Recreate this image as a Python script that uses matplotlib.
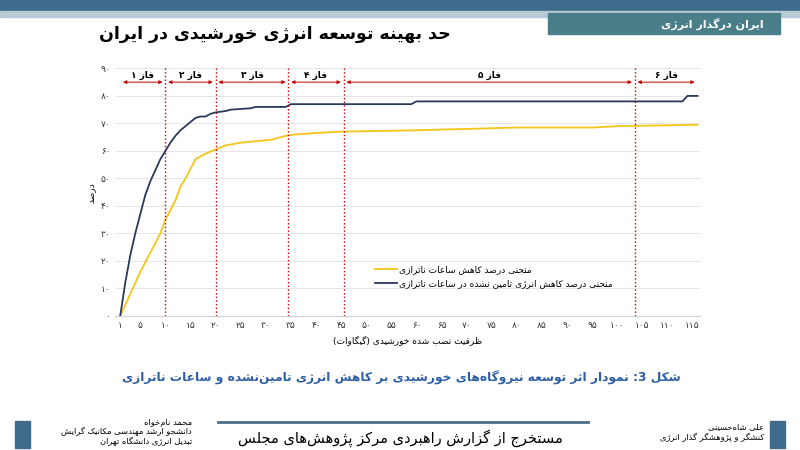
import re
import matplotlib
matplotlib.use("Agg")
import matplotlib.pyplot as plt
from matplotlib.patches import Rectangle

plt.rcParams['font.family'] = ['DejaVu Sans']

# --- tiny Persian shaper: letter -> (isolated, final, initial, medial) ---
FORMS = {
    'ا': (0xFE8D, 0xFE8E), 'آ': (0xFE81, 0xFE82), 'د': (0xFEA9, 0xFEAA), 'ذ': (0xFEAB, 0xFEAC),
    'ر': (0xFEAD, 0xFEAE), 'ز': (0xFEAF, 0xFEB0), 'ژ': (0xFB8A, 0xFB8B), 'و': (0xFEED, 0xFEEE),
    'ة': (0xFE93, 0xFE94),
    'ب': (0xFE8F, 0xFE90, 0xFE91, 0xFE92), 'پ': (0xFB56, 0xFB57, 0xFB58, 0xFB59),
    'ت': (0xFE95, 0xFE96, 0xFE97, 0xFE98), 'ث': (0xFE99, 0xFE9A, 0xFE9B, 0xFE9C),
    'ج': (0xFE9D, 0xFE9E, 0xFE9F, 0xFEA0), 'چ': (0xFB7A, 0xFB7B, 0xFB7C, 0xFB7D),
    'ح': (0xFEA1, 0xFEA2, 0xFEA3, 0xFEA4), 'خ': (0xFEA5, 0xFEA6, 0xFEA7, 0xFEA8),
    'س': (0xFEB1, 0xFEB2, 0xFEB3, 0xFEB4), 'ش': (0xFEB5, 0xFEB6, 0xFEB7, 0xFEB8),
    'ص': (0xFEB9, 0xFEBA, 0xFEBB, 0xFEBC), 'ض': (0xFEBD, 0xFEBE, 0xFEBF, 0xFEC0),
    'ط': (0xFEC1, 0xFEC2, 0xFEC3, 0xFEC4), 'ظ': (0xFEC5, 0xFEC6, 0xFEC7, 0xFEC8),
    'ع': (0xFEC9, 0xFECA, 0xFECB, 0xFECC), 'غ': (0xFECD, 0xFECE, 0xFECF, 0xFED0),
    'ف': (0xFED1, 0xFED2, 0xFED3, 0xFED4), 'ق': (0xFED5, 0xFED6, 0xFED7, 0xFED8),
    'ک': (0xFB8E, 0xFB8F, 0xFB90, 0xFB91), 'گ': (0xFB92, 0xFB93, 0xFB94, 0xFB95),
    'ل': (0xFEDD, 0xFEDE, 0xFEDF, 0xFEE0), 'م': (0xFEE1, 0xFEE2, 0xFEE3, 0xFEE4),
    'ن': (0xFEE5, 0xFEE6, 0xFEE7, 0xFEE8), 'ه': (0xFEE9, 0xFEEA, 0xFEEB, 0xFEEC),
    'ی': (0xFBFC, 0xFBFD, 0xFBFE, 0xFBFF),
}


def shape(s):
    out = []
    chars = list(s)
    n = len(chars)
    i = 0
    while i < n:
        c = chars[i]
        if c not in FORMS:
            out.append(c)
            i += 1
            continue
        prev = chars[i - 1] if i > 0 else ''
        joins_prev = prev in FORMS and len(FORMS[prev]) == 4
        if c == 'ل' and i + 1 < n and chars[i + 1] == 'ا':
            out.append(chr(0xFEFC if joins_prev else 0xFEFB))
            i += 2
            continue
        nxt = chars[i + 1] if i + 1 < n else ''
        f = FORMS[c]
        joins_next = len(f) == 4 and nxt in FORMS
        if joins_prev and joins_next:
            g = f[3]
        elif joins_prev:
            g = f[1]
        elif joins_next:
            g = f[2]
        else:
            g = f[0]
        out.append(chr(g))
        i += 1
    return ''.join(out).replace('\u200c', '')


def fa(s):
    t = shape(s)
    runs = re.findall(r'[0-9A-Za-z۰-۹.]+|[^0-9A-Za-z۰-۹.]', t)
    mirror = {'(': ')', ')': '('}
    return ''.join(mirror.get(r, r) for r in reversed(runs))


def fdig(n):
    return str(n).translate(str.maketrans('0123456789', '۰۱۲۳۴۵۶۷۸۹'))


# --- data ---
blue_x = [1, 2, 3, 4, 5, 6, 7, 8, 9, 10, 11, 12, 13, 14, 15, 16, 17, 18, 19, 20, 22, 23, 27, 28, 34,
          35, 59, 60, 113, 114, 116]
blue_y = [0, 12, 22, 30, 37, 44, 49, 53, 57, 60, 63, 65.5, 67.5, 69, 70.5, 72, 72.5, 72.5, 73.5, 74, 74.5,
          75, 75.5, 76, 76, 77, 77, 78, 78, 80, 80]
yel_x = [1, 3, 5, 7, 9, 10, 12, 13, 14, 16, 18, 20, 22, 25, 28, 31, 34, 36, 40, 45, 60, 70, 80, 95, 100, 116]
yel_y = [0, 8, 16, 23, 30, 35, 42, 47, 50, 57, 59, 60.5, 62, 63, 63.5, 64, 65.5, 66, 66.5, 67, 67.5,
         68, 68.5, 68.5, 69, 69.5]
phase_bounds = [1, 10, 20, 34.5, 45.5, 103.5, 116]
phase_names = ['فاز ۱', 'فاز ۲', 'فاز ۳', 'فاز ۴', 'فاز ۵', 'فاز ۶']
x_ticks = [1] + list(range(5, 116, 5))
y_ticks = list(range(0, 91, 10))

fig = plt.figure(figsize=(8, 4.5), dpi=100)

# header decoration
fig.patches.append(Rectangle((0, 0.975), 1, 0.025, transform=fig.transFigure, color='#3f6b8c'))
fig.patches.append(Rectangle((0, 0.962), 1, 0.013, transform=fig.transFigure, color='#b9cad6'))
fig.patches.append(Rectangle((0.685, 0.925), 0.29, 0.045, transform=fig.transFigure, color='#4a7f8a'))
fig.text(0.955, 0.947, fa('ایران درگذار انرژی'), color='white', fontsize=8, fontweight='bold',
         ha='right', va='center')
fig.text(0.343, 0.925, fa('حد بهینه توسعه انرژی خورشیدی در ایران'), fontsize=12.5, fontweight='bold',
         ha='center', va='center')

ax = fig.add_axes([0.144, 0.298, 0.731, 0.55])
ax.plot(yel_x, yel_y, color='#f5c518', lw=1.3, label=fa('منحنی درصد کاهش ساعات ناترازی'))
ax.plot(blue_x, blue_y, color='#2b3a5c', lw=1.3, label=fa('منحنی درصد کاهش انرژی تامین نشده در ساعات ناترازی'))

for b in phase_bounds[1:-1]:
    ax.axvline(b, color='#c00000', ls=':', lw=1)
for k, name in enumerate(phase_names):
    a, b = phase_bounds[k], phase_bounds[k + 1]
    ax.annotate('', xy=(a, 85), xytext=(b, 85),
                arrowprops=dict(arrowstyle='<|-|>', color='#c00000', lw=0.7, mutation_scale=5))
    ax.text((a + b) / 2, 87.5, fa(name), ha='center', va='center', fontsize=6.5, fontweight='bold')

ax.set_xlim(0, 116.5)
ax.set_ylim(0, 90)
ax.set_xticks(x_ticks)
ax.set_xticklabels([fdig(v) for v in x_ticks], fontsize=6.5)
ax.set_yticks(y_ticks)
ax.set_yticklabels([fdig(v) for v in y_ticks], fontsize=6.5)
ax.grid(axis='y', color='#e6e6e6', lw=0.7)
for sp in ['top', 'right', 'left']:
    ax.spines[sp].set_visible(False)
ax.spines['bottom'].set_color('#d0d0d0')
ax.tick_params(length=0, colors='#333333')
ax.set_xlabel(fa('ظرفیت نصب شده خورشیدی (گیگاوات)'), fontsize=6.5)
ax.set_ylabel(fa('درصد'), fontsize=6.5)
ax.legend(loc='lower left', bbox_to_anchor=(0.43, 0.08), frameon=False, fontsize=6.5,
          handlelength=2.5, handletextpad=0.2)

fig.text(0.502, 0.16, fa('شکل 3: نمودار اثر توسعه نیروگاه‌های خورشیدی بر کاهش انرژی تامین‌نشده و ساعات ناترازی'),
         color='#2e5fa5', fontsize=8.8, fontweight='bold', ha='center', va='center')

# footer
fig.patches.append(Rectangle((0.019, 0.005), 0.019, 0.06, transform=fig.transFigure, color='#3f6b8c'))
fig.patches.append(Rectangle((0.962, 0.005), 0.019, 0.06, transform=fig.transFigure, color='#3f6b8c'))
fig.lines.append(plt.Line2D([0.272, 0.735], [0.062, 0.062], transform=fig.transFigure,
                            color='#4a6f8c', lw=2))
fig.text(0.5, 0.027, fa('مستخرج از گزارش راهبردی مرکز پژوهش‌های مجلس'), fontsize=10.5,
         ha='center', va='center')
fig.text(0.24, 0.04, fa('محمد نام‌خواه') + '\n' + fa('دانشجو ارشد مهندسی مکانیک گرایش') + '\n'
         + fa('تبدیل انرژی دانشگاه تهران'), fontsize=6, ha='right', va='center', linespacing=1.1)
fig.text(0.955, 0.04, fa('علی شاه‌حسینی') + '\n' + fa('کنشگر و پژوهشگر گذار انرژی'), fontsize=6,
         ha='right', va='center', linespacing=1.2)

fig.savefig('out.png', dpi=100)
